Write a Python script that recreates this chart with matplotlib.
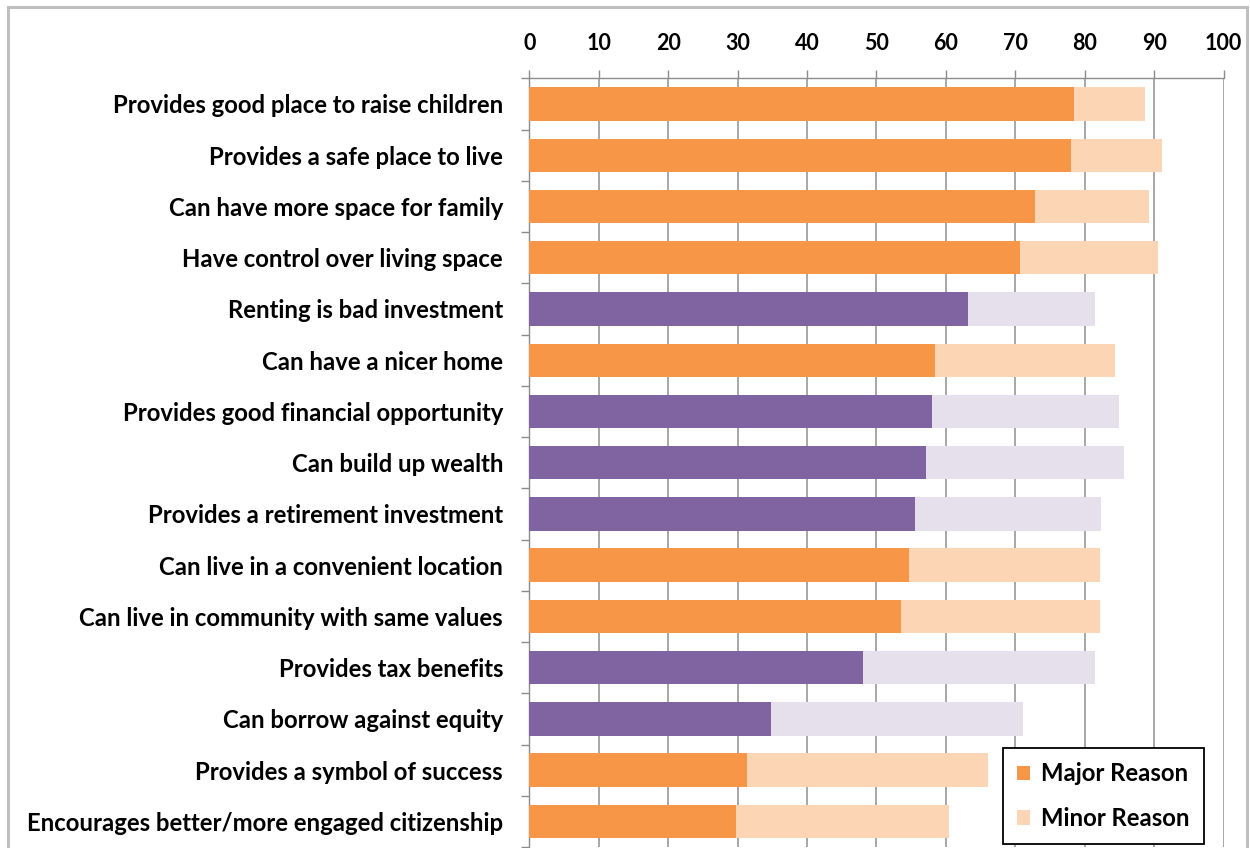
import matplotlib
matplotlib.use("Agg")
import matplotlib.pyplot as plt
from matplotlib.patches import Patch, Rectangle
import numpy as np

categories = [
    "Provides good place to raise children",
    "Provides a safe place to live",
    "Can have more space for family",
    "Have control over living space",
    "Renting is bad investment",
    "Can have a nicer home",
    "Provides good financial opportunity",
    "Can build up wealth",
    "Provides a retirement investment",
    "Can live in a convenient location",
    "Can live in community with same values",
    "Provides tax benefits",
    "Can borrow against equity",
    "Provides a symbol of success",
    "Encourages better/more engaged citizenship",
]
# reason type: L = lifestyle (orange), F = financial (purple)
reason_type = ["L", "L", "L", "L", "F", "L", "F", "F", "F", "L", "L", "F", "F", "L", "L"]
major = [78.5, 78.0, 72.9, 70.7, 63.2, 58.4, 58.0, 57.2, 55.5, 54.7, 53.6, 48.1, 34.8, 31.4, 29.7]
major_plus_minor = [88.7, 91.2, 89.3, 90.5, 81.5, 84.4, 84.9, 85.6, 82.3, 82.2, 82.2, 81.5, 71.1, 66.0, 60.5]
minor = [t - m for t, m in zip(major_plus_minor, major)]
x_ticks = [0, 10, 20, 30, 40, 50, 60, 70, 80, 90, 100]
legend_labels = ["Major Reason", "Minor Reason"]

C_MAJ = {"L": "#F79646", "F": "#8064A2"}
C_MIN = {"L": "#FCD5B5", "F": "#E5E0EC"}
FONT = "Lato"
FS = 17.2
FS_TICK = 15.5

plt.rcParams["font.family"] = [FONT, "DejaVu Sans"]
plt.rcParams["font.weight"] = "bold"

W, H = 1250, 848
fig = plt.figure(figsize=(W / 100, H / 100), dpi=100)
ax_l, ax_r, ax_t, ax_b = 529.4, 1223.5, 78.3, 847.0
ax = fig.add_axes([ax_l / W, 1 - ax_b / H, (ax_r - ax_l) / W, (ax_b - ax_t) / H])

y = np.arange(len(categories))
ax.barh(y, major, height=0.65, color=[C_MAJ[t] for t in reason_type], zorder=3)
ax.barh(y, minor, left=major, height=0.65, color=[C_MIN[t] for t in reason_type], zorder=3)

ax.set_xlim(0, 100)
ax.set_ylim(len(categories) - 0.5, -0.5)

ax.xaxis.tick_top()
ax.set_xticks(x_ticks)
ax.set_xticklabels([str(v) for v in x_ticks], fontsize=FS_TICK, fontweight="bold")
ax.tick_params(axis="x", which="major", length=5.8, width=1.0, color="#8C8C8C", pad=12)

ax.set_yticks(y)
ax.set_yticklabels(categories, fontsize=FS, fontweight="bold")
ax.set_yticks(np.arange(len(categories) + 1) - 0.5, minor=True)
ax.tick_params(axis="y", which="major", length=0, pad=19)
ax.tick_params(axis="y", which="minor", length=5.8, width=1.0, color="#8C8C8C")

ax.grid(axis="x", color="#A0A0A0", linewidth=1.3, zorder=0)
ax.set_axisbelow(True)
for s in ["right", "bottom"]:
    ax.spines[s].set_visible(False)
for s in ["top", "left"]:
    ax.spines[s].set_color("#8C8C8C")
    ax.spines[s].set_linewidth(1.0)

handles = [Patch(facecolor=C_MAJ["L"]), Patch(facecolor=C_MIN["L"])]
leg = fig.legend(handles, legend_labels, loc="upper left",
                 bbox_to_anchor=(1003 / W, 1 - 748 / H), bbox_transform=fig.transFigure,
                 frameon=True, fancybox=False, edgecolor="black", framealpha=1,
                 prop={"family": FONT, "weight": "bold", "size": FS},
                 handlelength=0.55, handleheight=0.55, handletextpad=0.45,
                 labelspacing=0.9, borderpad=0.6, borderaxespad=0)
leg.get_frame().set_linewidth(1.3)

# outer frame
fig.patches.append(Rectangle((8 / W, -0.05), (1247 - 8) / W, 1.05 - 7 / H,
                             transform=fig.transFigure, fill=False,
                             edgecolor="#BFBFBF", linewidth=2.2))

fig.savefig("out.png", dpi=100)
